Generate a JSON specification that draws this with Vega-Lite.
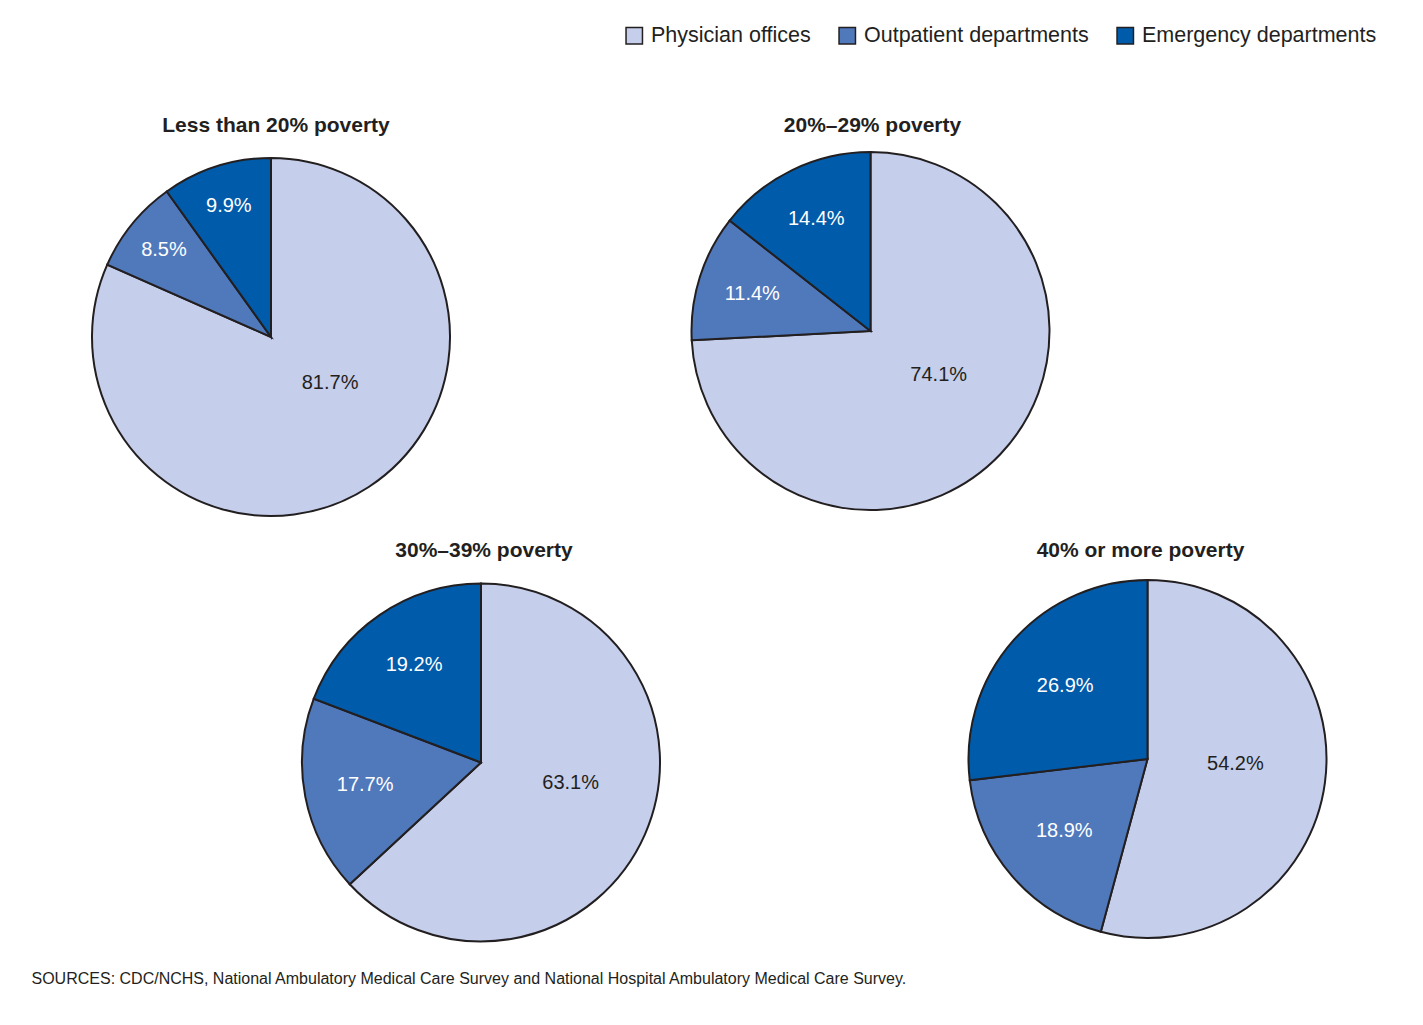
{
  "$schema": "https://vega.github.io/schema/vega-lite/v6.json",
  "padding": {"left": 31, "top": 25, "right": 5, "bottom": 5},
  "background": "white",
  "datasets": {
    "visits": [
      {"poverty": "Less than 20% poverty", "category": "Physician offices", "share": 0.817},
      {"poverty": "Less than 20% poverty", "category": "Outpatient departments", "share": 0.085},
      {"poverty": "Less than 20% poverty", "category": "Emergency departments", "share": 0.099},
      {"poverty": "20%–29% poverty", "category": "Physician offices", "share": 0.741},
      {"poverty": "20%–29% poverty", "category": "Outpatient departments", "share": 0.114},
      {"poverty": "20%–29% poverty", "category": "Emergency departments", "share": 0.144},
      {"poverty": "30%–39% poverty", "category": "Physician offices", "share": 0.631},
      {"poverty": "30%–39% poverty", "category": "Outpatient departments", "share": 0.177},
      {"poverty": "30%–39% poverty", "category": "Emergency departments", "share": 0.192},
      {"poverty": "40% or more poverty", "category": "Physician offices", "share": 0.542},
      {"poverty": "40% or more poverty", "category": "Outpatient departments", "share": 0.189},
      {"poverty": "40% or more poverty", "category": "Emergency departments", "share": 0.269}
    ]
  },
  "title": {
    "text": "SOURCES: CDC/NCHS, National Ambulatory Medical Care Survey and National Hospital Ambulatory Medical Care Survey.",
    "orient": "bottom",
    "anchor": "start",
    "frame": "group",
    "dx": -59.5,
    "offset": 38,
    "baseline": "alphabetic",
    "fontSize": 16,
    "fontWeight": "normal",
    "font": "Liberation Sans",
    "color": "#231F20"
  },
  "spacing": 17,
  "vconcat": [
    {
      "spacing": 233.5,
      "hconcat": [
        {
          "width": 360, "height": 372,
          "title": {"text": "Less than 20% poverty", "dx": 5, "offset": 15},
          "data": {"name": "visits"},
          "transform": [{"filter": "datum.poverty === 'Less than 20% poverty'"}],
          "encoding": {
            "theta": {"field": "share", "type": "quantitative", "stack": true},
            "order": {"field": "category", "sort": "descending"}
          },
          "layer": [
            {
              "mark": {"type": "arc", "outerRadius": 179, "stroke": "#231F20", "strokeWidth": 2},
              "encoding": {
                "color": {"field": "category", "type": "nominal", "title": null,
                  "scale": {"domain": ["Physician offices", "Outpatient departments", "Emergency departments"],
                            "range": ["#C5CEEA", "#5079BC", "#005BAA"]}}
              }
            },
            {
              "mark": {"type": "text", "radius": 138, "fill": "white", "fontSize": 20},
              "encoding": {
                "text": {"field": "share", "type": "quantitative", "format": ".1%"},
                "opacity": {"condition": {"test": "datum.category === 'Physician offices'", "value": 0}, "value": 1}
              }
            },
            {
              "mark": {"type": "text", "radius": 75, "thetaOffset": -0.33, "fill": "#231F20", "fontSize": 20},
              "encoding": {
                "text": {"field": "share", "type": "quantitative", "format": ".1%"},
                "opacity": {"condition": {"test": "datum.category === 'Physician offices'", "value": 1}, "value": 0}
              }
            }
          ]
        },
        {
          "width": 360, "height": 360,
          "title": {"text": "20%–29% poverty", "dx": 2, "offset": 12},
          "data": {"name": "visits"},
          "transform": [{"filter": "datum.poverty === '20%–29% poverty'"}],
          "encoding": {
            "theta": {"field": "share", "type": "quantitative", "stack": true},
            "order": {"field": "category", "sort": "descending"}
          },
          "layer": [
            {
              "mark": {"type": "arc", "outerRadius": 179, "stroke": "#231F20", "strokeWidth": 2},
              "encoding": {
                "color": {"field": "category", "type": "nominal", "title": null,
                  "scale": {"domain": ["Physician offices", "Outpatient departments", "Emergency departments"],
                            "range": ["#C5CEEA", "#5079BC", "#005BAA"]}}
              }
            },
            {
              "mark": {"type": "text", "radius": 124, "fill": "white", "fontSize": 20},
              "encoding": {
                "text": {"field": "share", "type": "quantitative", "format": ".1%"},
                "opacity": {"condition": {"test": "datum.category === 'Physician offices'", "value": 0}, "value": 1}
              }
            },
            {
              "mark": {"type": "text", "radius": 81, "thetaOffset": -0.19, "fill": "#231F20", "fontSize": 20},
              "encoding": {
                "text": {"field": "share", "type": "quantitative", "format": ".1%"},
                "opacity": {"condition": {"test": "datum.category === 'Physician offices'", "value": 1}, "value": 0}
              }
            }
          ]
        }
      ]
    },
    {
      "spacing": 93.5,
      "hconcat": [
        {
          "width": 780, "height": 367,
          "title": {"text": "30%–39% poverty", "dx": 3, "offset": 18},
          "data": {"name": "visits"},
          "transform": [{"filter": "datum.poverty === '30%–39% poverty'"}],
          "encoding": {
            "theta": {"field": "share", "type": "quantitative", "stack": true},
            "order": {"field": "category", "sort": "descending"}
          },
          "layer": [
            {
              "mark": {"type": "arc", "outerRadius": 179, "stroke": "#231F20", "strokeWidth": 2},
              "encoding": {
                "color": {"field": "category", "type": "nominal", "title": null,
                  "scale": {"domain": ["Physician offices", "Outpatient departments", "Emergency departments"],
                            "range": ["#C5CEEA", "#5079BC", "#005BAA"]}}
              }
            },
            {
              "mark": {"type": "text", "radius": 118, "fill": "white", "fontSize": 20},
              "encoding": {
                "text": {"field": "share", "type": "quantitative", "format": ".1%"},
                "opacity": {"condition": {"test": "datum.category === 'Physician offices'", "value": 0}, "value": 1}
              }
            },
            {
              "mark": {"type": "text", "radius": 92, "thetaOffset": -0.185, "fill": "#231F20", "fontSize": 20},
              "encoding": {
                "text": {"field": "share", "type": "quantitative", "format": ".1%"},
                "opacity": {"condition": {"test": "datum.category === 'Physician offices'", "value": 1}, "value": 0}
              }
            }
          ]
        },
        {
          "width": 360, "height": 360,
          "title": {"text": "40% or more poverty", "dx": -7, "offset": 15},
          "data": {"name": "visits"},
          "transform": [{"filter": "datum.poverty === '40% or more poverty'"}],
          "encoding": {
            "theta": {"field": "share", "type": "quantitative", "stack": true},
            "order": {"field": "category", "sort": "descending"}
          },
          "layer": [
            {
              "mark": {"type": "arc", "outerRadius": 179, "stroke": "#231F20", "strokeWidth": 2},
              "encoding": {
                "color": {"field": "category", "type": "nominal", "title": null,
                  "scale": {"domain": ["Physician offices", "Outpatient departments", "Emergency departments"],
                            "range": ["#C5CEEA", "#5079BC", "#005BAA"]}}
              }
            },
            {
              "mark": {"type": "text", "radius": 110, "fill": "white", "fontSize": 20},
              "encoding": {
                "text": {"field": "share", "type": "quantitative", "format": ".1%"},
                "opacity": {"condition": {"test": "datum.category === 'Physician offices'", "value": 0}, "value": 1}
              }
            },
            {
              "mark": {"type": "text", "radius": 88, "thetaOffset": -0.08, "fill": "#231F20", "fontSize": 20},
              "encoding": {
                "text": {"field": "share", "type": "quantitative", "format": ".1%"},
                "opacity": {"condition": {"test": "datum.category === 'Physician offices'", "value": 1}, "value": 0}
              }
            }
          ]
        }
      ]
    }
  ],
  "resolve": {"scale": {"color": "shared"}},
  "config": {
    "view": {"stroke": null},
    "font": "Liberation Sans",
    "title": {"fontSize": 21, "fontWeight": "bold", "color": "#231F20", "font": "Liberation Sans", "baseline": "alphabetic", "offset": 20},
    "legend": {
      "orient": "none",
      "legendX": 532.5,
      "legendY": -126,
      "direction": "horizontal",
      "symbolType": "square",
      "symbolSize": 270,
      "symbolStrokeColor": "#231F20",
      "symbolStrokeWidth": 1.5,
      "symbolOpacity": 1,
      "labelFontSize": 21.5,
      "labelFont": "Liberation Sans",
      "labelColor": "#231F20",
      "labelOffset": 6,
      "columnPadding": 24,
      "labelLimit": 400
    }
  }
}
